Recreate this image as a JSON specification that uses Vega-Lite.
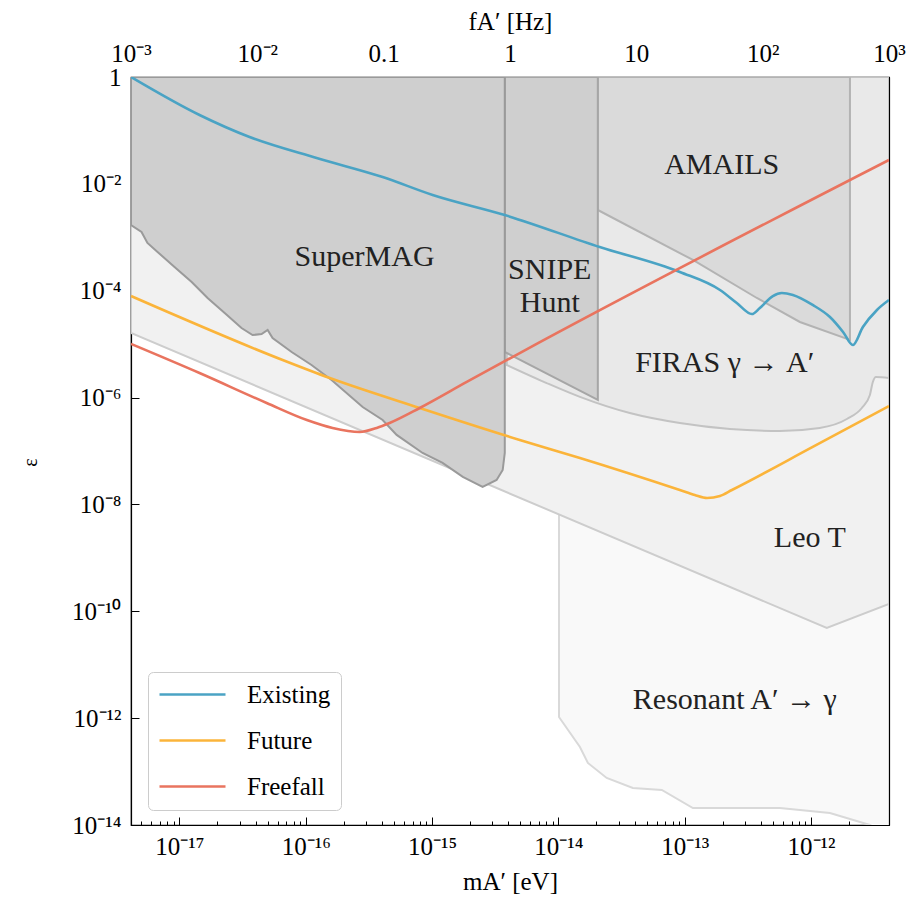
{
  "$schema": "https://vega.github.io/schema/vega-lite/v6.json",
  "width": 758,
  "height": 748,
  "autosize": {"type": "none"},
  "padding": {"left": 131, "top": 77, "right": 28, "bottom": 76},
  "background": "white",
  "config": {
    "view": {"stroke": "black", "strokeWidth": 1.2},
    "font": "Liberation Serif",
    "axis": {
      "labelFont": "Liberation Serif", "labelFontSize": 25, "labelColor": "black",
      "titleFont": "Liberation Serif", "titleFontSize": 25, "titleFontWeight": "normal", "titleColor": "black",
      "tickColor": "black", "domainColor": "black", "domainWidth": 1.2, "tickWidth": 1,
      "grid": false, "labelFlush": false, "labelOverlap": false
    }
  },
  "datasets": {
    "supermag": [
      {"m": 4.1357e-18, "eps": 1.70e-3}, {"m": 5.01e-18, "eps": 1.26e-3}, {"m": 5.58e-18, "eps": 7.82e-4},
      {"m": 6.71e-18, "eps": 5.31e-4}, {"m": 9.14e-18, "eps": 2.78e-4}, {"m": 1.25e-17, "eps": 1.46e-4},
      {"m": 1.67e-17, "eps": 7.31e-5}, {"m": 2.28e-17, "eps": 3.83e-5}, {"m": 3.10e-17, "eps": 2.00e-5},
      {"m": 3.79e-17, "eps": 1.48e-5}, {"m": 4.47e-17, "eps": 1.55e-5}, {"m": 4.99e-17, "eps": 1.84e-5},
      {"m": 5.46e-17, "eps": 1.30e-5}, {"m": 7.73e-17, "eps": 7.13e-6}, {"m": 1.11e-16, "eps": 4.07e-6},
      {"m": 1.60e-16, "eps": 2.13e-6}, {"m": 2.82e-16, "eps": 6.67e-7}, {"m": 4.06e-16, "eps": 3.80e-7},
      {"m": 5.24e-16, "eps": 2.00e-7}, {"m": 8.41e-16, "eps": 9.18e-8}, {"m": 1.21e-15, "eps": 5.97e-8},
      {"m": 1.75e-15, "eps": 3.27e-8}, {"m": 2.51e-15, "eps": 2.12e-8}, {"m": 3.24e-15, "eps": 2.87e-8},
      {"m": 3.62e-15, "eps": 4.41e-8}, {"m": 3.76e-15, "eps": 9.18e-8}
    ],
    "snipe": [{"m": 3.76e-15, "eps": 7.13e-6}, {"m": 2.05e-14, "eps": 9.02e-7}],
    "amails": [
      {"m": 2.05e-14, "eps": 3.24e-3}, {"m": 1.16e-13, "eps": 3.76e-4}, {"m": 3.72e-13, "eps": 7.31e-5},
      {"m": 8.15e-13, "eps": 2.60e-5}, {"m": 2.03e-12, "eps": 1.20e-5}
    ],
    "firas": [
      {"m": 3.90e-15, "eps": 4.07e-6}, {"m": 8.07e-15, "eps": 1.87e-6}, {"m": 1.48e-14, "eps": 1.03e-6},
      {"m": 3.67e-14, "eps": 5.14e-7}, {"m": 9.14e-14, "eps": 3.34e-7}, {"m": 2.28e-13, "eps": 2.58e-7},
      {"m": 5.66e-13, "eps": 2.37e-7}, {"m": 1.17e-12, "eps": 2.70e-7}, {"m": 1.92e-12, "eps": 3.97e-7},
      {"m": 2.52e-12, "eps": 6.38e-7}, {"m": 2.92e-12, "eps": 1.12e-6}, {"m": 3.08e-12, "eps": 1.96e-6},
      {"m": 3.26e-12, "eps": 2.43e-6}, {"m": 4.1357e-12, "eps": 2.32e-6}
    ],
    "leot": [{"m": 4.1357e-18, "eps": 1.62e-5}, {"m": 1.33e-12, "eps": 4.87e-11}, {"m": 4.1357e-12, "eps": 1.37e-10}],
    "resonant": [
      {"m": 1.01e-14, "eps": 1.05e-12}, {"m": 1.48e-14, "eps": 2.88e-13}, {"m": 1.71e-14, "eps": 1.45e-13},
      {"m": 2.41e-14, "eps": 7.59e-14}, {"m": 3.88e-14, "eps": 4.93e-14}, {"m": 6.58e-14, "eps": 4.52e-14},
      {"m": 1.16e-13, "eps": 2.08e-14}, {"m": 5.66e-13, "eps": 2.08e-14}, {"m": 1.41e-12, "eps": 1.68e-14},
      {"m": 2.92e-12, "eps": 1.0e-14}, {"m": 4.1357e-12, "eps": 6.5e-15}
    ],
    "curves": [
      {"series": "Existing", "m": 4.1357e-18, "eps": 1},
      {"series": "Existing", "m": 1.442e-17, "eps": 0.1945},
      {"series": "Existing", "m": 3.59e-17, "eps": 7.53e-2},
      {"series": "Existing", "m": 1.219e-16, "eps": 3.05e-2},
      {"series": "Existing", "m": 4.06e-16, "eps": 1.343e-2},
      {"series": "Existing", "m": 1.01e-15, "eps": 6.19e-3},
      {"series": "Existing", "m": 3.76e-15, "eps": 2.61e-3},
      {"series": "Existing", "m": 2.12e-14, "eps": 6.58e-4},
      {"series": "Existing", "m": 9.14e-14, "eps": 2.24e-4},
      {"series": "Existing", "m": 1.90e-13, "eps": 1.03e-4},
      {"series": "Existing", "m": 2.58e-13, "eps": 5.89e-5},
      {"series": "Existing", "m": 3.40e-13, "eps": 3.66e-5},
      {"series": "Existing", "m": 3.93e-13, "eps": 4.75e-5},
      {"series": "Existing", "m": 4.98e-13, "eps": 7.96e-5},
      {"series": "Existing", "m": 5.86e-13, "eps": 9.06e-5},
      {"series": "Existing", "m": 7.18e-13, "eps": 8.32e-5},
      {"series": "Existing", "m": 1.03e-12, "eps": 5.41e-5},
      {"series": "Existing", "m": 1.41e-12, "eps": 3.22e-5},
      {"series": "Existing", "m": 1.79e-12, "eps": 1.69e-5},
      {"series": "Existing", "m": 2.14e-12, "eps": 9.64e-6},
      {"series": "Existing", "m": 2.57e-12, "eps": 2.09e-5},
      {"series": "Existing", "m": 3.32e-12, "eps": 4.36e-5},
      {"series": "Existing", "m": 4.1357e-12, "eps": 6.70e-5},
      {"series": "Future", "m": 4.1357e-18, "eps": 7.96e-5},
      {"series": "Future", "m": 6.56e-17, "eps": 5.05e-6},
      {"series": "Future", "m": 1.55e-16, "eps": 2.32e-6},
      {"series": "Future", "m": 7.98e-16, "eps": 6.38e-7},
      {"series": "Future", "m": 4.94e-15, "eps": 1.61e-7},
      {"series": "Future", "m": 1.48e-14, "eps": 7.39e-8},
      {"series": "Future", "m": 9.14e-14, "eps": 1.86e-8},
      {"series": "Future", "m": 1.20e-13, "eps": 1.50e-8},
      {"series": "Future", "m": 1.50e-13, "eps": 1.32e-8},
      {"series": "Future", "m": 1.90e-13, "eps": 1.44e-8},
      {"series": "Future", "m": 2.36e-13, "eps": 1.86e-8},
      {"series": "Future", "m": 1.03e-12, "eps": 1.19e-7},
      {"series": "Future", "m": 4.1357e-12, "eps": 6.95e-7},
      {"series": "Freefall", "m": 4.1357e-18, "eps": 1.01e-5},
      {"series": "Freefall", "m": 1.442e-17, "eps": 2.88e-6},
      {"series": "Freefall", "m": 4.90e-17, "eps": 7.92e-7},
      {"series": "Freefall", "m": 1.02e-16, "eps": 3.80e-7},
      {"series": "Freefall", "m": 1.63e-16, "eps": 2.70e-7},
      {"series": "Freefall", "m": 2.67e-16, "eps": 2.27e-7},
      {"series": "Freefall", "m": 3.64e-16, "eps": 2.70e-7},
      {"series": "Freefall", "m": 4.61e-16, "eps": 3.34e-7},
      {"series": "Freefall", "m": 7.98e-16, "eps": 6.38e-7},
      {"series": "Freefall", "m": 1.88e-15, "eps": 1.96e-6},
      {"series": "Freefall", "m": 4.94e-15, "eps": 6.82e-6},
      {"series": "Freefall", "m": 4.1357e-12, "eps": 2.80e-2}
    ],
    "labels": [
      {"m": 2.92e-16, "eps": 4.28e-4, "text": "SuperMAG"},
      {"m": 8.53e-15, "eps": 2.44e-4, "text": "SNIPE"},
      {"m": 8.53e-15, "eps": 5.89e-5, "text": "Hunt"},
      {"m": 1.96e-13, "eps": 2.25e-2, "text": "AMAILS"},
      {"m": 2.07e-13, "eps": 4.44e-6, "text": "FIRAS γ → A′"},
      {"m": 9.77e-13, "eps": 2.36e-9, "text": "Leo T"},
      {"m": 2.49e-13, "eps": 2.19e-12, "text": "Resonant A′ → γ"}
    ]
  },
  "layer": [
    {
      "layer": [
        {
          "data": {"name": "resonant"},
          "mark": {"type": "area", "fill": "#f9f9f9", "stroke": "#d9d9d9", "strokeWidth": 2, "clip": true},
          "encoding": {
            "x": {
              "field": "m", "type": "quantitative",
              "scale": {"type": "log", "domain": [4.1357e-18, 4.1357e-12], "nice": false},
              "title": "mA′ [eV]",
              "axis": {
                "orient": "bottom",
                "values": [5e-18, 6e-18, 7e-18, 8e-18, 9e-18, 1e-17, 2e-17, 3e-17, 4e-17, 5e-17, 6e-17, 7e-17, 8e-17, 9e-17, 1e-16, 2e-16, 3e-16, 4e-16, 5e-16, 6e-16, 7e-16, 8e-16, 9e-16, 1e-15, 2e-15, 3e-15, 4e-15, 5e-15, 6e-15, 7e-15, 8e-15, 9e-15, 1e-14, 2e-14, 3e-14, 4e-14, 5e-14, 6e-14, 7e-14, 8e-14, 9e-14, 1e-13, 2e-13, 3e-13, 4e-13, 5e-13, 6e-13, 7e-13, 8e-13, 9e-13, 1e-12, 2e-12, 3e-12, 4e-12],
                "labelExpr": "datum.value==1e-17?'10⁻¹⁷':datum.value==1e-16?'10⁻¹⁶':datum.value==1e-15?'10⁻¹⁵':datum.value==1e-14?'10⁻¹⁴':datum.value==1e-13?'10⁻¹³':datum.value==1e-12?'10⁻¹²':''",
                "tickSize": {"condition": {"test": "datum.value==1e-17||datum.value==1e-16||datum.value==1e-15||datum.value==1e-14||datum.value==1e-13||datum.value==1e-12", "value": -8}, "value": -4},
                "labelPadding": 17,
                "titlePadding": 6
              }
            },
            "y": {
              "field": "eps", "type": "quantitative",
              "scale": {"type": "log", "domain": [1e-14, 1], "nice": false},
              "title": "ε",
              "axis": {
                "orient": "left",
                "values": [1, 1e-2, 1e-4, 1e-6, 1e-8, 1e-10, 1e-12, 1e-14],
                "labelExpr": "datum.value==1?'1':datum.value==1e-2?'10⁻²':datum.value==1e-4?'10⁻⁴':datum.value==1e-6?'10⁻⁶':datum.value==1e-8?'10⁻⁸':datum.value==1e-10?'10⁻¹⁰':datum.value==1e-12?'10⁻¹²':'10⁻¹⁴'",
                "tickSize": -8,
                "labelPadding": 18,
                "titleFontSize": 20,
                "titleX": -101,
                "titleY": 385,
                "titleAlign": "center",
                "titleBaseline": "middle"
              }
            },
            "y2": {"datum": 1}
          }
        },
        {
          "data": {"name": "leot"},
          "mark": {"type": "area", "fill": "#f1f1f1", "stroke": "#cdcdcd", "strokeWidth": 2, "clip": true},
          "encoding": {
            "x": {"field": "m", "type": "quantitative"},
            "y": {"field": "eps", "type": "quantitative"},
            "y2": {"datum": 1}
          }
        },
        {
          "data": {"name": "firas"},
          "mark": {"type": "area", "fill": "#e9e9e9", "stroke": "#c3c3c3", "strokeWidth": 2, "clip": true, "interpolate": "monotone"},
          "encoding": {
            "x": {"field": "m", "type": "quantitative"},
            "y": {"field": "eps", "type": "quantitative"},
            "y2": {"datum": 1}
          }
        },
        {
          "data": {"name": "amails"},
          "mark": {"type": "area", "fill": "#dadada", "stroke": "#b3b3b3", "strokeWidth": 2, "clip": true},
          "encoding": {
            "x": {"field": "m", "type": "quantitative"},
            "y": {"field": "eps", "type": "quantitative"},
            "y2": {"datum": 1}
          }
        },
        {
          "data": {"name": "snipe"},
          "mark": {"type": "area", "fill": "#cfcfcf", "stroke": "#a6a6a6", "strokeWidth": 2, "clip": true},
          "encoding": {
            "x": {"field": "m", "type": "quantitative"},
            "y": {"field": "eps", "type": "quantitative"},
            "y2": {"datum": 1}
          }
        },
        {
          "data": {"name": "supermag"},
          "mark": {"type": "area", "fill": "#cfcfcf", "stroke": "#9a9a9a", "strokeWidth": 2, "clip": true},
          "encoding": {
            "x": {"field": "m", "type": "quantitative"},
            "y": {"field": "eps", "type": "quantitative"},
            "y2": {"datum": 1}
          }
        },
        {
          "data": {"name": "curves"},
          "mark": {"type": "line", "strokeWidth": 2.6, "clip": true, "interpolate": "monotone"},
          "encoding": {
            "x": {"field": "m", "type": "quantitative"},
            "y": {"field": "eps", "type": "quantitative"},
            "color": {
              "field": "series", "type": "nominal",
              "scale": {"domain": ["Existing", "Future", "Freefall"], "range": ["#4aa3c4", "#fbb43a", "#e9745f"]},
              "legend": {
                "orient": "none", "legendX": 17, "legendY": 595, "title": null,
                "padding": 10, "strokeColor": "#cccccc", "cornerRadius": 5, "fillColor": "white",
                "labelFont": "Liberation Serif", "labelFontSize": 25, "labelColor": "black",
                "symbolType": "M-1,0H5", "symbolSize": 484, "symbolStrokeWidth": 2.6,
                "labelOffset": 64, "rowPadding": 20
              }
            }
          }
        },
        {
          "data": {"name": "labels"},
          "mark": {"type": "text", "font": "Liberation Serif", "fontSize": 30, "color": "#222222", "align": "center", "baseline": "middle"},
          "encoding": {
            "x": {"field": "m", "type": "quantitative"},
            "y": {"field": "eps", "type": "quantitative"},
            "text": {"field": "text", "type": "nominal"}
          }
        }
      ]
    },
    {
      "data": {"values": [{"f": 0.001, "e": 1}, {"f": 1000, "e": 1e-14}]},
      "mark": {"type": "point", "opacity": 0},
      "encoding": {
        "x": {
          "field": "f", "type": "quantitative",
          "scale": {"type": "log", "domain": [0.001, 1000], "nice": false},
          "title": "fA′ [Hz]",
          "axis": {
            "orient": "top",
            "values": [0.001, 0.002, 0.003, 0.004, 0.005, 0.006, 0.007, 0.008, 0.009, 0.01, 0.02, 0.03, 0.04, 0.05, 0.06, 0.07, 0.08, 0.09, 0.1, 0.2, 0.3, 0.4, 0.5, 0.6, 0.7, 0.8, 0.9, 1, 2, 3, 4, 5, 6, 7, 8, 9, 10, 20, 30, 40, 50, 60, 70, 80, 90, 100, 200, 300, 400, 500, 600, 700, 800, 900, 1000],
            "labelExpr": "datum.value==0.001?'10⁻³':datum.value==0.01?'10⁻²':datum.value==0.1?'0.1':datum.value==1?'1':datum.value==10?'10':datum.value==100?'10²':datum.value==1000?'10³':''",
            "tickSize": {"condition": {"test": "datum.value==0.001||datum.value==0.01||datum.value==0.1||datum.value==1||datum.value==10||datum.value==100||datum.value==1000", "value": -8}, "value": -4},
            "labelPadding": 19,
            "titlePadding": 3
          }
        },
        "y": {
          "field": "e", "type": "quantitative",
          "scale": {"type": "log", "domain": [1e-14, 1], "nice": false},
          "axis": {
            "orient": "right", "title": null, "labels": false,
            "values": [1, 1e-2, 1e-4, 1e-6, 1e-8, 1e-10, 1e-12, 1e-14],
            "tickSize": -8
          }
        }
      }
    }
  ],
  "resolve": {"scale": {"x": "independent"}, "axis": {"y": "independent"}}
}
